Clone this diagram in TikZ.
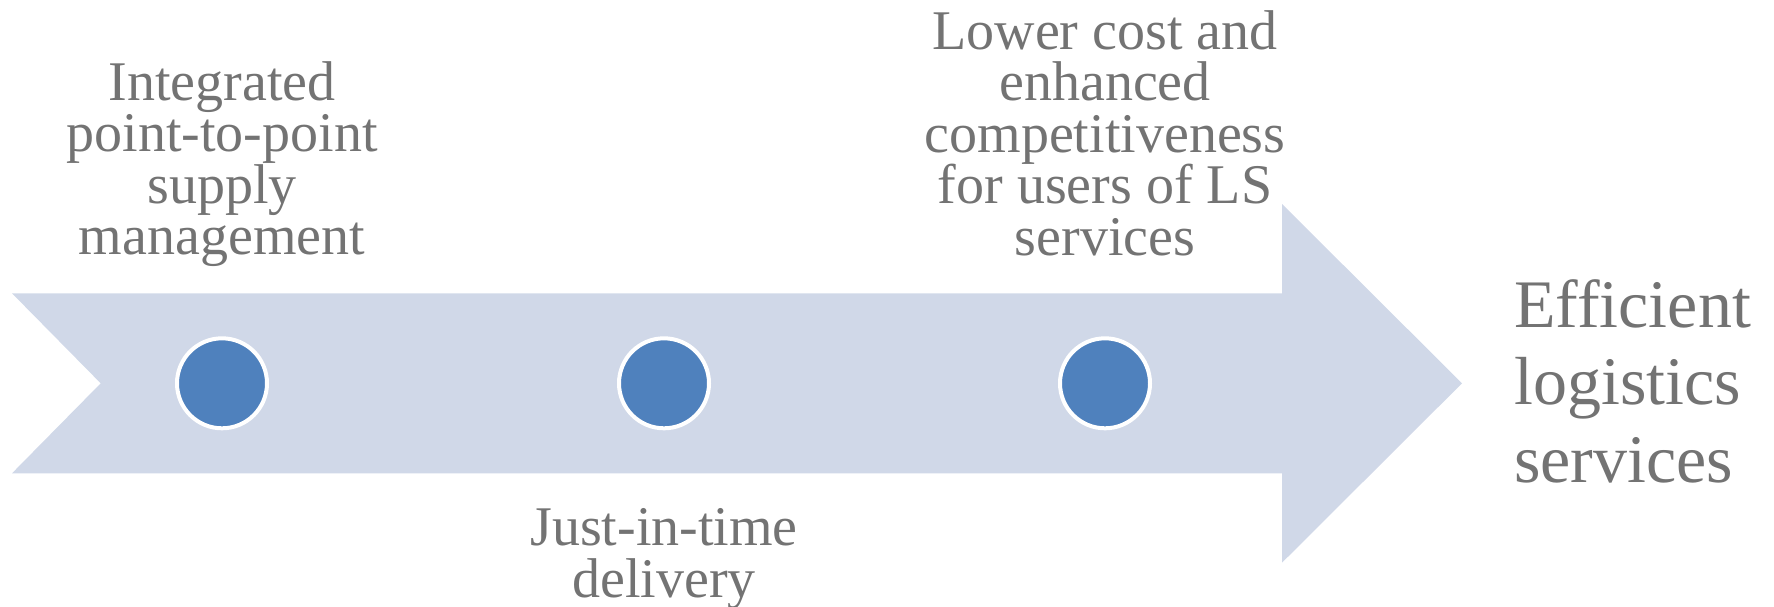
\documentclass[tikz,border=0pt]{standalone}
\usepackage{fontspec}
\setmainfont{Liberation Serif}
\definecolor{arrowfill}{HTML}{D0D8E8}
\definecolor{dotblue}{HTML}{4F81BD}
\definecolor{txtgray}{HTML}{737373}
\begin{document}
\begin{tikzpicture}[x=1pt,y=-1pt,
  dot/.style={circle, fill=dotblue, draw=white, line width=4pt, minimum size=90pt, inner sep=0pt},
  lbl/.style={text=txtgray, align=center, inner sep=0pt, font=\fontsize{56}{51.5}\selectfont},
  biglbl/.style={text=txtgray, align=left, inner sep=0pt, font=\fontsize{68}{77.5}\selectfont}]
\useasboundingbox (0,0) rectangle (1774,606);
\fill[arrowfill] (12,293.3) -- (1282,293.3) -- (1282,204) -- (1462,383.3) -- (1282,562.7) -- (1282,473.3) -- (12,473.3) -- (100.7,383.3) -- cycle;
\node[dot] (d1) at (222,383.3) {};
\node[dot] (d2) at (664,383.3) {};
\node[dot] (d3) at (1105,383.3) {};
\node[lbl] (l1) at (222,164) {Integrated\\point-to-point\\supply\\management};
\node[lbl] (l2) at (664,559) {Just-in-time\\delivery};
\node[lbl] (l3) at (1105,133) {Lower cost and\\enhanced\\competitiveness\\for users of LS\\services};
\node[biglbl, anchor=west] (goal) at (1514,381) {Efficient\\logistics\\services};
\end{tikzpicture}
\end{document}
